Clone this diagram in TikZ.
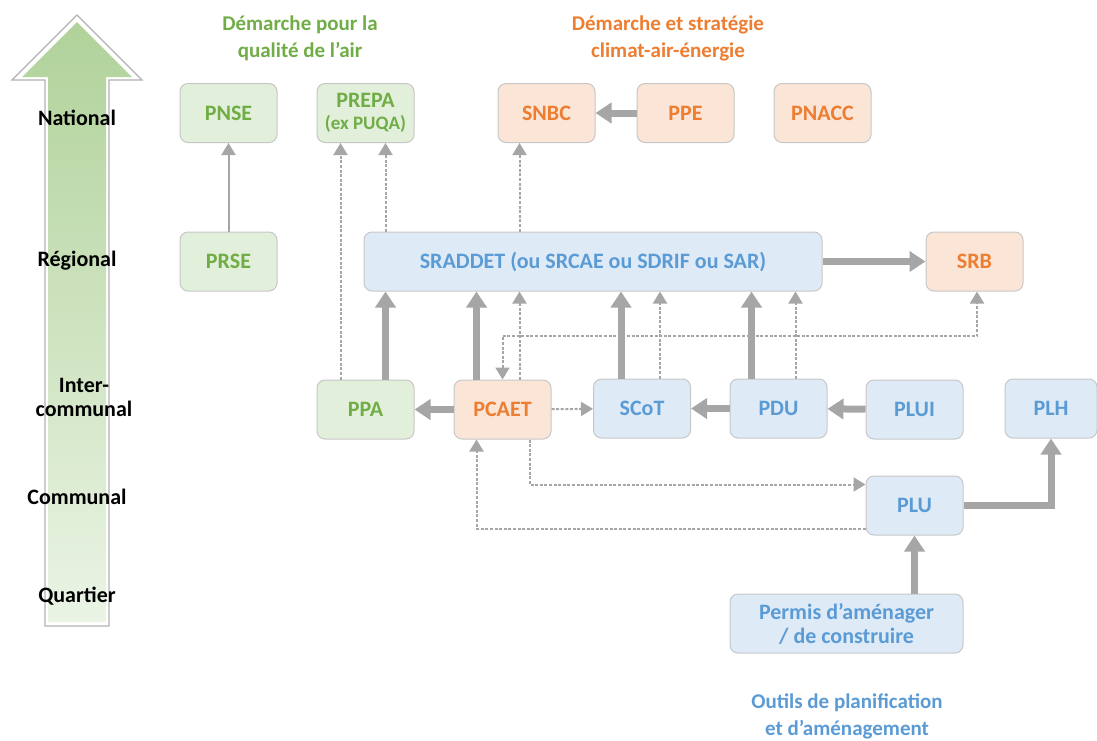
\documentclass[tikz,border=0pt]{standalone}
\usepackage{fontspec}
\setmainfont{Carlito}
\usetikzlibrary{positioning}
\usetikzlibrary{calc}
\usetikzlibrary{arrows.meta}

\definecolor{airfill}{HTML}{E2EFDA}
\definecolor{airtext}{HTML}{70AD47}
\definecolor{climfill}{HTML}{FBE5D6}
\definecolor{climtext}{HTML}{ED7D31}
\definecolor{planfill}{HTML}{DEEBF7}
\definecolor{plantext}{HTML}{5B9BD5}
\definecolor{arrgray}{HTML}{A6A6A6}

\begin{document}
\begin{tikzpicture}[x=0.5pt, y=-0.5pt,
	box/.style={draw=black!22, line width=0.5pt, rounded corners=4pt, minimum width=48.5pt, minimum height=29.5pt, inner sep=1pt, align=center, font=\bfseries\fontsize{11}{12}\selectfont},
	air/.style={box, fill=airfill, text=airtext},
	clim/.style={box, fill=climfill, text=climtext},
	plan/.style={box, fill=planfill, text=plantext},
	thickarr/.style={draw=arrgray, line width=3.5pt, -{Triangle[width=10pt,length=8pt]}},
	thinarr/.style={draw=arrgray, line width=1pt, -{Triangle[width=7pt,length=6pt]}},
	dotarr/.style={thinarr, dash pattern=on 1.5pt off 0.8pt},
	level/.style={align=center, font=\bfseries\fontsize{11}{12}\selectfont},
	title/.style={align=center, font=\bfseries\fontsize{10.5}{13.5}\selectfont}]
	\useasboundingbox (0,0) rectangle (1097,740);

	% echelle territoriale
	\draw[black!30, line width=0.6pt, fill=white] (45,626) -- (45,80) -- (12,80) -- (77,15) -- (142,80) -- (109,80) -- (109,626) -- cycle;
	\shade[top color=airtext!55, bottom color=airfill!70] (48,622) -- (48,77) -- (22,77) -- (77,22) -- (132,77) -- (106,77) -- (106,622) -- cycle;
	\node[level] (national) at (77,118) {National};
	\node[level] (regional) at (77,261) {Régional};
	\node[level] (intercom) at (84,397) {Inter-\\communal};
	\node[level] (communal) at (77,497) {Communal};
	\node[level] (quartier) at (77,596) {Quartier};

	% titres
	\node[title, text=airtext] (titleair) at (300,38) {Démarche pour la\\qualité de l’air};
	\node[title, text=climtext] (titleclim) at (668,38) {Démarche et stratégie\\climat-air-énergie};
	\node[title, text=plantext] (titleplan) at (847,716) {Outils de planification\\et d’aménagement};

	% documents
	\node[air] (pnse) at (228.5,113) {PNSE};
	\node[air] (prepa) at (365.5,113) {PREPA\\[-1pt]{\fontsize{9.5}{11}\selectfont (ex PUQA)}};
	\node[clim] (snbc) at (546.5,113) {SNBC};
	\node[clim] (ppe) at (685.5,113) {PPE};
	\node[clim] (pnacc) at (822.5,113) {PNACC};
	\node[air] (prse) at (228.5,261.5) {PRSE};
	\node[plan, minimum width=229pt] (sraddet) at (593,261.5) {SRADDET (ou SRCAE ou SDRIF ou SAR)};
	\node[clim] (srb) at (974.5,261.5) {SRB};
	\node[air] (ppa) at (365.5,409.5) {PPA};
	\node[clim] (pcaet) at (502.5,409.5) {PCAET};
	\node[plan] (scot) at (642,408.5) {SCoT};
	\node[plan] (pdu) at (778.5,408.5) {PDU};
	\node[plan] (plui) at (914.5,409.5) {PLUI};
	\node[plan, minimum width=46pt] (plh) at (1051,408.5) {PLH};
	\node[plan] (plu) at (914.5,505.5) {PLU};
	\node[plan, minimum width=116.5pt] (permis) at (846.5,623.5) {Permis d’aménager\\/ de construire};

	% liens vers le national
	\draw[thinarr] (prse) -- (pnse);
	\draw[dotarr] ($(ppa.north)+(-25,0)$) coordinate (ppaup) -- (ppaup |- prepa.south);
	\draw[dotarr] ($(prepa.south)+(20,0)$) coordinate (prepain) (prepain |- sraddet.north) -- (prepain);
	\draw[dotarr] ($(snbc.south)+(-27,0)$) coordinate (snbcin) (snbcin |- sraddet.north) -- (snbcin);
	\draw[thickarr] (ppe) -- (snbc);

	% liens vers le regional
	\draw[thickarr] (sraddet) -- (srb);
	\draw[thickarr] ($(ppa.north)+(20,0)$) coordinate (ppaout) -- (ppaout |- sraddet.south);
	\draw[thickarr] ($(pcaet.north)+(-26,0)$) coordinate (pcaetout) -- (pcaetout |- sraddet.south);
	\draw[dotarr] ($(pcaet.north)+(17,0)$) coordinate (pcaetdot) -- (pcaetdot |- sraddet.south);
	\draw[thickarr] ($(scot.north)+(-21,0)$) coordinate (scotout) -- (scotout |- sraddet.south);
	\draw[dotarr] ($(scot.north)+(18,0)$) coordinate (scotdot) -- (scotdot |- sraddet.south);
	\draw[thickarr] ($(pdu.north)+(-27,0)$) coordinate (duout) -- (duout |- sraddet.south);
	\draw[dotarr] ($(pdu.north)+(17,0)$) coordinate (dudot) -- (dudot |- sraddet.south);
	\coordinate (srbloop) at (977,336);
	\draw[dotarr, {Triangle[width=7pt,length=6pt]}-{Triangle[width=7pt,length=6pt]}] (pcaet.north) |- (srbloop) -- (srbloop |- srb.south);

	% liens intercommunaux
	\draw[thickarr] (pcaet) -- (ppa);
	\draw[dotarr] (pcaet) -- (scot);
	\draw[thickarr] (pdu) -- (scot);
	\draw[thickarr] (plui) -- (pdu);

	% liens communaux
	\draw[dotarr] ($(pcaet.south)+(27,0)$) |- ($(plu.west)+(0,-21)$);
	\draw[dotarr] ($(plu.west)+(0,23)$) -| ($(pcaet.south)+(-26,0)$);
	\draw[thickarr] (plu.south |- permis.north) -- (plu.south);
	\draw[thickarr] (plu.east) -| (plh.south);
\end{tikzpicture}
\end{document}
